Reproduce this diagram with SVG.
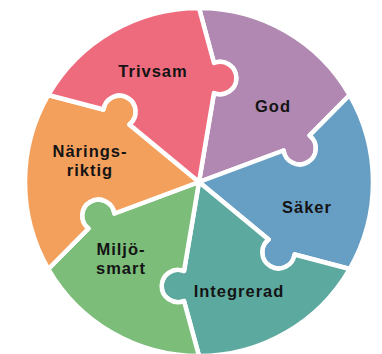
<svg xmlns="http://www.w3.org/2000/svg" xmlns:xlink="http://www.w3.org/1999/xlink" width="382" height="354" viewBox="0 0 382 354">
<style>
.piece{stroke:#ffffff;stroke-width:4.5;stroke-linejoin:round}
.lbl{font-family:"Liberation Sans",Arial,sans-serif;font-weight:700;font-size:16.5px;fill:#141414;text-anchor:middle;letter-spacing:1px}
</style>
<defs>
<path id="piece" d="M199,182 L214,93 A16.2,16.2 0 1 0 214,63 L199,8 A174,174 0 0 1 349.69,95 L309.56,135.49 A16.2,16.2 0 1 1 283.58,150.49 Z"/>
</defs>
<rect width="382" height="354" fill="#ffffff"/>
<g id="god"><use xlink:href="#piece" class="piece" fill="#B088B1"/><text class="lbl" x="273" y="112">God</text></g>
<g id="saker"><use xlink:href="#piece" class="piece" fill="#679FC4" transform="rotate(60 199 182)"/><text class="lbl" x="307" y="213">Säker</text></g>
<g id="integrerad"><use xlink:href="#piece" class="piece" fill="#5CAA9F" transform="rotate(120 199 182)"/><text class="lbl" x="239" y="297">Integrerad</text></g>
<g id="miljosmart"><use xlink:href="#piece" class="piece" fill="#7CBD7A" transform="rotate(180 199 182)"/><text class="lbl" x="121" y="255">Miljö-</text><text class="lbl" x="121" y="274">smart</text></g>
<g id="naringsriktig"><use xlink:href="#piece" class="piece" fill="#F4A05D" transform="rotate(240 199 182)"/><text class="lbl" x="90" y="156.8">Närings-</text><text class="lbl" x="90" y="175.5">riktig</text></g>
<g id="trivsam"><use xlink:href="#piece" class="piece" fill="#EE6B7E" transform="rotate(300 199 182)"/><text class="lbl" x="153" y="77">Trivsam</text></g>
</svg>
